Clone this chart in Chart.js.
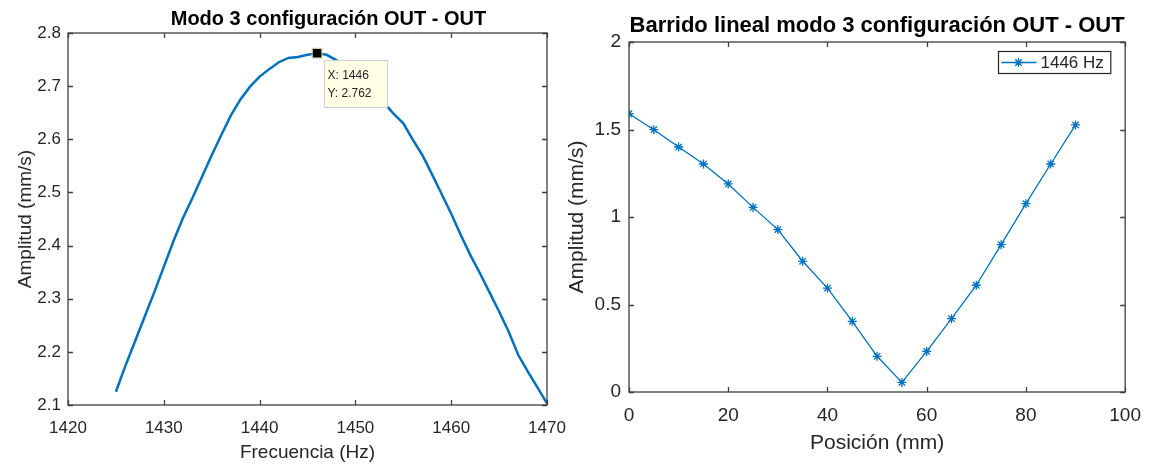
<!DOCTYPE html>
<html lang="es">
<head>
<meta charset="utf-8">
<script src="https://cdn.jsdelivr.net/npm/chart.js@4.4.1/dist/chart.umd.min.js"></script>
<style>
  html, body { margin: 0; padding: 0; background: #fff; }
  body { width: 1153px; height: 466px; position: relative; overflow: hidden; }
  .caja { position: absolute; top: 0; height: 466px; }
  #cajaIzq { left: 0; width: 580px; }
  #cajaDer { left: 560px; width: 593px; }
</style>
</head>
<body>
<div class="caja" id="cajaIzq"><canvas id="graficoFrecuencia" width="580" height="466"></canvas></div>
<div class="caja" id="cajaDer"><canvas id="graficoBarrido" width="593" height="466"></canvas></div>
<script>
// Barrido en frecuencia, modo 3 configuracion OUT - OUT
const frecuencias = [1425, 1426, 1427, 1428, 1429, 1430, 1431, 1432, 1433, 1434, 1435, 1436,
  1437, 1438, 1439, 1440, 1441, 1442, 1443, 1444, 1445, 1446, 1447, 1448, 1449, 1450, 1451,
  1452, 1453, 1454, 1455, 1456, 1457, 1458, 1459, 1460, 1461, 1462, 1463, 1464, 1465, 1466,
  1467, 1468, 1469, 1470];
const amplitudesFrecuencia = [2.125, 2.174, 2.220, 2.266, 2.312, 2.360, 2.408, 2.452, 2.490,
  2.530, 2.570, 2.608, 2.645, 2.675, 2.699, 2.718, 2.732, 2.745, 2.753, 2.755, 2.759, 2.762,
  2.759, 2.749, 2.737, 2.723, 2.707, 2.688, 2.668, 2.648, 2.630, 2.599, 2.570, 2.534, 2.497,
  2.460, 2.420, 2.382, 2.348, 2.312, 2.276, 2.238, 2.194, 2.163, 2.133, 2.103];
const ticksFrecuencia = [1420, 1430, 1440, 1450, 1460, 1470];
const ticksAmplitudIzq = [2.1, 2.2, 2.3, 2.4, 2.5, 2.6, 2.7, 2.8];
// punto marcado con el data tip
const puntoMarcado = { x: 1446, y: 2.762 };

// Barrido lineal a 1446 Hz
const posiciones = [0, 5, 10, 15, 20, 25, 30, 35, 40, 45, 50, 55, 60, 65, 70, 75, 80, 85, 90];
const amplitudesBarrido = [1.590, 1.499, 1.400, 1.303, 1.189, 1.055, 0.928, 0.747, 0.594,
  0.404, 0.204, 0.055, 0.232, 0.419, 0.610, 0.842, 1.076, 1.303, 1.526];
const ticksPosicion = [0, 20, 40, 60, 80, 100];
const ticksAmplitudDer = [0, 0.5, 1, 1.5, 2];
const etiquetaSerie = '1446 Hz';

const azul = '#0072BD';
const gris = '#262626';
const fuente = 'Liberation Sans, Arial, sans-serif';

// Caja con marcas hacia adentro (estilo MATLAB)
const marcoMatlab = {
  id: 'marcoMatlab',
  afterDatasetsDraw(chart) {
    const { ctx, chartArea: a, scales } = chart;
    const largo = 5;
    ctx.save();
    ctx.strokeStyle = '#404040';
    ctx.lineWidth = 1.3;
    ctx.beginPath();
    scales.x.ticks.forEach(t => {
      const px = Math.round(scales.x.getPixelForValue(t.value)) + 0.5;
      ctx.moveTo(px, a.bottom); ctx.lineTo(px, a.bottom - largo);
      ctx.moveTo(px, a.top); ctx.lineTo(px, a.top + largo);
    });
    scales.y.ticks.forEach(t => {
      const py = Math.round(scales.y.getPixelForValue(t.value)) + 0.5;
      ctx.moveTo(a.left, py); ctx.lineTo(a.left + largo, py);
      ctx.moveTo(a.right, py); ctx.lineTo(a.right - largo, py);
    });
    ctx.stroke();
    ctx.strokeRect(a.left, a.top, a.right - a.left, a.bottom - a.top);
    ctx.restore();
  }
};

// Titulo en negrita sobre el eje
const tituloMatlab = {
  id: 'tituloMatlab',
  afterDraw(chart, args, opts) {
    const { ctx, chartArea: a } = chart;
    ctx.save();
    ctx.font = opts.fuente;
    ctx.fillStyle = '#000';
    ctx.textAlign = 'center';
    ctx.textBaseline = 'middle';
    ctx.fillText(opts.texto, (a.left + a.right) / 2 + opts.desplazamiento, opts.y);
    ctx.restore();
  }
};

// Data tip del maximo
const datoMarcado = {
  id: 'datoMarcado',
  afterDraw(chart, args, opts) {
    const { ctx, scales } = chart;
    const px = scales.x.getPixelForValue(opts.punto.x);
    const py = scales.y.getPixelForValue(opts.punto.y);
    ctx.save();
    ctx.fillStyle = '#000';
    ctx.strokeStyle = '#d8d8b0';
    ctx.lineWidth = 1;
    ctx.fillRect(px - 4.5, py - 4.5, 9, 9);
    ctx.strokeRect(px - 5, py - 5, 10, 10);
    const bx = Math.round(px + 7) + 0.5, by = Math.round(py + 7) + 0.5;
    ctx.fillStyle = '#ffffe6';
    ctx.fillRect(bx, by, 63, 47);
    ctx.strokeStyle = '#d0d0d0';
    ctx.strokeRect(bx, by, 63, 47);
    ctx.fillStyle = gris;
    ctx.font = '12px ' + fuente;
    ctx.textAlign = 'left';
    ctx.textBaseline = 'middle';
    ctx.fillText('X: ' + opts.punto.x, bx + 3, by + 15);
    ctx.fillText('Y: ' + opts.punto.y, bx + 3, by + 33);
    ctx.restore();
  }
};

// Leyenda con caja dentro del area
const leyendaMatlab = {
  id: 'leyendaMatlab',
  afterDraw(chart, args, opts) {
    const { ctx, chartArea: a } = chart;
    const ds = chart.data.datasets[0];
    ctx.save();
    ctx.font = '17px ' + fuente;
    const ancho = 42 + ctx.measureText(ds.label).width + 7;
    const alto = 22;
    const bx = Math.round(a.right - 15 - ancho) + 0.5;
    const by = Math.round(a.top + 9) + 0.5;
    ctx.fillStyle = '#fff';
    ctx.fillRect(bx, by, ancho, alto);
    ctx.strokeStyle = gris;
    ctx.lineWidth = 1.2;
    ctx.strokeRect(bx, by, ancho, alto);
    const cy = by + alto / 2;
    ctx.strokeStyle = ds.borderColor;
    ctx.lineWidth = ds.borderWidth;
    ctx.beginPath();
    ctx.moveTo(bx + 3, cy); ctx.lineTo(bx + 38, cy);
    ctx.stroke();
    Chart.helpers.drawPoint(ctx, { pointStyle: 'star', radius: ds.pointRadius, borderWidth: ds.pointBorderWidth }, bx + 20, cy);
    ctx.fillStyle = gris;
    ctx.textAlign = 'left';
    ctx.textBaseline = 'middle';
    ctx.fillText(ds.label, bx + 42, cy + 1);
    ctx.restore();
  }
};

function ticksFijos(lista) {
  return scale => { scale.ticks = lista.map(v => ({ value: v })); };
}

// Grafico izquierdo: amplitud frente a frecuencia
new Chart(document.getElementById('graficoFrecuencia'), {
  type: 'line',
  data: {
    datasets: [{
      data: frecuencias.map((f, i) => ({ x: f, y: amplitudesFrecuencia[i] })),
      borderColor: azul,
      borderWidth: 2.5,
      pointRadius: 0,
      tension: 0,
      fill: false
    }]
  },
  options: {
    responsive: false,
    animation: false,
    layout: { padding: { left: 4, right: 33, top: 33, bottom: 4 } },
    plugins: {
      legend: { display: false },
      tooltip: { enabled: false },
      tituloMatlab: { texto: 'Modo 3 configuración OUT - OUT', desplazamiento: 21, y: 19, fuente: 'bold 20px ' + fuente },
      datoMarcado: { punto: puntoMarcado }
    },
    scales: {
      x: {
        type: 'linear', min: 1420, max: 1470,
        afterBuildTicks: ticksFijos(ticksFrecuencia),
        afterFit: s => { s.height = 57; },
        grid: { display: false, drawTicks: false },
        border: { display: false },
        ticks: { autoSkip: false, maxRotation: 0, padding: 13, color: gris, font: { family: fuente, size: 17 }, callback: v => String(v) },
        title: { display: true, text: 'Frecuencia (Hz)', color: gris, padding: 0, font: { family: fuente, size: 19, lineHeight: 1 } }
      },
      y: {
        min: 2.1, max: 2.8,
        afterBuildTicks: ticksFijos(ticksAmplitudIzq),
        afterFit: s => { s.width = 64; },
        grid: { display: false, drawTicks: false },
        border: { display: false },
        ticks: { autoSkip: false, padding: 7, color: gris, font: { family: fuente, size: 17 }, callback: v => v.toFixed(1) },
        title: { display: true, text: 'Amplitud (mm/s)', color: gris, padding: { top: 12, bottom: 0 }, font: { family: fuente, size: 19, lineHeight: 1 } }
      }
    }
  },
  plugins: [marcoMatlab, tituloMatlab, datoMarcado]
});

// Grafico derecho: barrido lineal a lo largo de la posicion
new Chart(document.getElementById('graficoBarrido'), {
  type: 'line',
  data: {
    datasets: [{
      label: etiquetaSerie,
      data: posiciones.map((p, i) => ({ x: p, y: amplitudesBarrido[i] })),
      borderColor: azul,
      backgroundColor: azul,
      borderWidth: 1.3,
      pointStyle: 'star',
      pointRadius: 4.5,
      pointBorderWidth: 1.3,
      pointBorderColor: azul,
      tension: 0,
      fill: false
    }]
  },
  options: {
    responsive: false,
    animation: false,
    layout: { padding: { left: 4, right: 26, top: 42, bottom: 4 } },
    plugins: {
      legend: { display: false },
      tooltip: { enabled: false },
      tituloMatlab: { texto: 'Barrido lineal modo 3 configuración OUT - OUT', desplazamiento: 0, y: 26, fuente: 'bold 22px ' + fuente },
      leyendaMatlab: {}
    },
    scales: {
      x: {
        type: 'linear', min: 0, max: 100,
        afterBuildTicks: ticksFijos(ticksPosicion),
        afterFit: s => { s.height = 70; },
        grid: { display: false, drawTicks: false },
        border: { display: false },
        ticks: { autoSkip: false, maxRotation: 0, padding: 12, color: gris, font: { family: fuente, size: 19 }, callback: v => String(v) },
        title: { display: true, text: 'Posición (mm)', color: gris, padding: { top: 0, bottom: 8 }, font: { family: fuente, size: 21, lineHeight: 1 } }
      },
      y: {
        min: 0, max: 2,
        afterBuildTicks: ticksFijos(ticksAmplitudDer),
        afterFit: s => { s.width = 65; },
        grid: { display: false, drawTicks: false },
        border: { display: false },
        ticks: { autoSkip: false, padding: 8, color: gris, font: { family: fuente, size: 19 }, callback: v => String(v) },
        title: { display: true, text: 'Amplitud (mm/s)', color: gris, padding: { top: 3, bottom: 0 }, font: { family: fuente, size: 21, lineHeight: 1 } }
      }
    }
  },
  plugins: [marcoMatlab, tituloMatlab, leyendaMatlab]
});
</script>
</body>
</html>
